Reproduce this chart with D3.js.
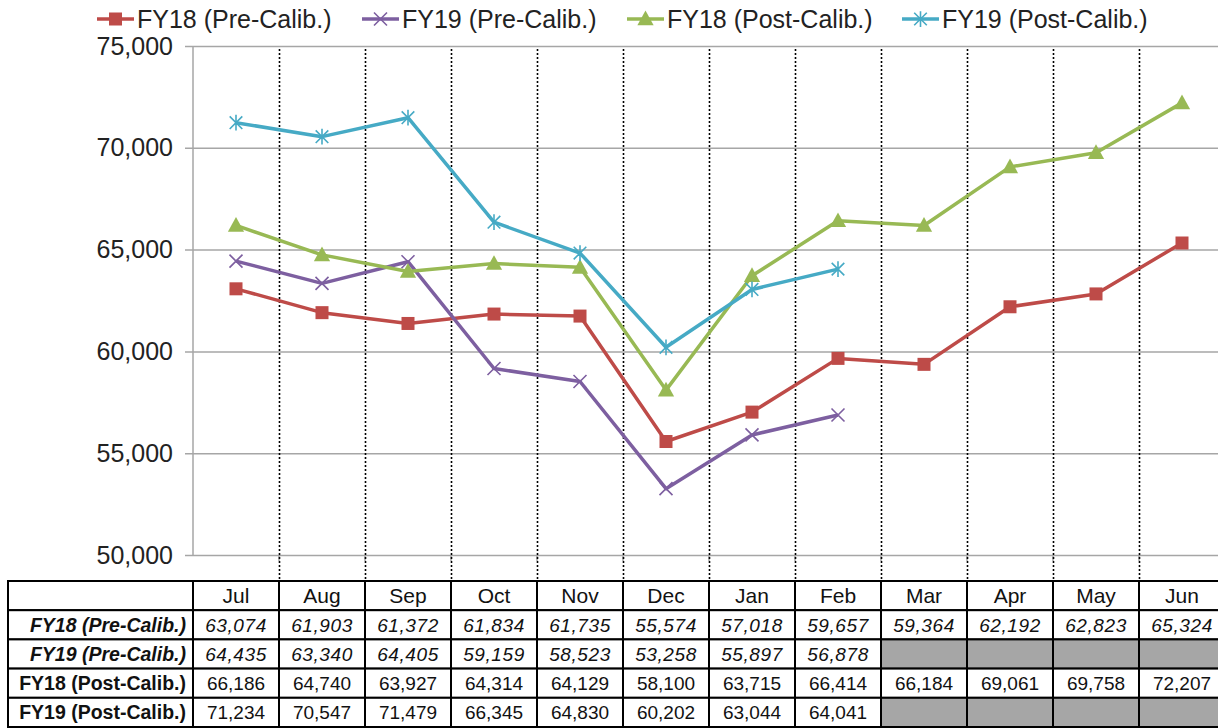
<!DOCTYPE html>
<html><head><meta charset="utf-8">
<script src="https://cdn.jsdelivr.net/npm/d3@7"></script>
<style>body{margin:0;background:#fff}svg{display:block}text{font-family:"Liberation Sans",Arial,sans-serif}</style>
</head><body><svg id="c" width="1218" height="728"></svg>
<script>
const months = ["Jul","Aug","Sep","Oct","Nov","Dec","Jan","Feb","Mar","Apr","May","Jun"];
const seriesNames = ["FY18 (Pre-Calib.)","FY19 (Pre-Calib.)","FY18 (Post-Calib.)","FY19 (Post-Calib.)"];
const fy18Pre  = [63074,61903,61372,61834,61735,55574,57018,59657,59364,62192,62823,65324];
const fy19Pre  = [64435,63340,64405,59159,58523,53258,55897,56878,null,null,null,null];
const fy18Post = [66186,64740,63927,64314,64129,58100,63715,66414,66184,69061,69758,72207];
const fy19Post = [71234,70547,71479,66345,64830,60202,63044,64041,null,null,null,null];
const yTicks = [50000,55000,60000,65000,70000,75000];

const series = [
  {name:seriesNames[0], values:fy18Pre,  color:"#BE4B48", marker:"square", italic:true},
  {name:seriesNames[1], values:fy19Pre,  color:"#7D5FA0", marker:"x", italic:true},
  {name:seriesNames[2], values:fy18Post, color:"#98B954", marker:"triangle", italic:false},
  {name:seriesNames[3], values:fy19Post, color:"#46AAC5", marker:"star", italic:false}
];
const markerSize = {square:13, x:13, triangle:14, star:14};

const svg = d3.select("#c");
const plotL = 193, plotR = 1225, plotT = 46, plotB = 555;
const tableT = 581, rowH = 29.2, tableL = 8;

const x = d3.scaleBand().domain(months).range([plotL, plotR]).padding(0);
const bw = x.bandwidth();
const cx = m => x(m) + bw/2;
const y = d3.scaleLinear().domain([50000,75000]).range([plotB, plotT]);

// horizontal gridlines
const yAxis = d3.axisLeft(y).tickValues(yTicks).tickFormat(d3.format(",")).tickSize(-(1218-plotL)).tickPadding(14);
const gy = svg.append("g").attr("transform",`translate(${plotL},0)`).call(yAxis);
gy.select(".domain").remove();
gy.selectAll(".tick line").attr("stroke","#A6A6A6").attr("stroke-width",1.5).attr("x1",-8);
gy.selectAll(".tick text").attr("font-size",25).attr("fill","#222").attr("font-family","Liberation Sans, Arial, sans-serif").attr("dx",-6);
svg.append("line").attr("x1",plotL).attr("x2",plotL).attr("y1",plotT).attr("y2",plotB).attr("stroke","#A6A6A6").attr("stroke-width",1.5);

// small x tick marks
svg.append("g").selectAll("line").data(months.slice(1)).join("line")
  .attr("x1",d=>x(d)).attr("x2",d=>x(d)).attr("y1",plotB).attr("y2",plotB+6)
  .attr("stroke","#A6A6A6").attr("stroke-width",1.5);

// dotted vertical lines
svg.append("g").selectAll("line").data(months.slice(1)).join("line")
  .attr("x1",d=>x(d)+0.5).attr("x2",d=>x(d)+0.5).attr("y1",plotT+3).attr("y2",tableT)
  .attr("stroke","#000").attr("stroke-width",1.6).attr("stroke-dasharray","2,2");

const line = d3.line().defined(d=>d.v!=null).x(d=>cx(d.m)).y(d=>y(d.v));
function drawMarker(g, type, color, px, py, s){
  if(type==="square"){
    g.append("rect").attr("x",px-s/2).attr("y",py-s/2).attr("width",s).attr("height",s).attr("fill",color);
  } else if(type==="triangle"){
    g.append("path").attr("d",`M${px},${py-s*0.6}L${px+s*0.58},${py+s*0.45}L${px-s*0.58},${py+s*0.45}Z`).attr("fill",color);
  } else if(type==="x"){
    const r=s*0.5;
    g.append("path").attr("d",`M${px-r},${py-r}L${px+r},${py+r}M${px-r},${py+r}L${px+r},${py-r}`).attr("stroke",color).attr("stroke-width",1.6).attr("fill","none");
  } else if(type==="star"){
    const r=s*0.45;
    g.append("path").attr("d",`M${px-r},${py-r}L${px+r},${py+r}M${px-r},${py+r}L${px+r},${py-r}M${px},${py-r*1.25}L${px},${py+r*1.25}`).attr("stroke",color).attr("stroke-width",1.6).attr("fill","none");
  }
}
series.forEach(s=>{
  const pts = months.map((m,i)=>({m, v:s.values[i]}));
  svg.append("path").datum(pts).attr("d",line).attr("fill","none").attr("stroke",s.color).attr("stroke-width",3.5).attr("stroke-linejoin","round");
  const g = svg.append("g");
  pts.filter(p=>p.v!=null).forEach(p=>drawMarker(g, s.marker, s.color, cx(p.m), y(p.v), markerSize[s.marker]));
});

// legend
const legX = [97, 362, 627, 902];
series.forEach((s,i)=>{
  const g = svg.append("g");
  const lx = legX[i], ly = 19;
  g.append("line").attr("x1",lx).attr("x2",lx+37).attr("y1",ly).attr("y2",ly).attr("stroke",s.color).attr("stroke-width",3.5);
  drawMarker(g, s.marker, s.color, lx+18.5, ly, markerSize[s.marker]);
  g.append("text").attr("x",lx+40).attr("y",ly+9).attr("font-size",25).attr("fill","#222").text(s.name);
});

// table
const tg = svg.append("g");
tg.append("rect").attr("x",tableL).attr("y",tableT).attr("width",plotL-tableL).attr("height",rowH).attr("fill","#fff").attr("stroke","#000").attr("stroke-width",2);
months.forEach(m=>{
  tg.append("rect").attr("x",x(m)).attr("y",tableT).attr("width",bw).attr("height",rowH).attr("fill","#fff").attr("stroke","#000").attr("stroke-width",2);
  tg.append("text").attr("x",cx(m)).attr("y",tableT+rowH/2+7.5).attr("text-anchor","middle").attr("font-size",21).attr("fill","#111").text(m);
});
const fmt = d3.format(",");
series.forEach((s,r)=>{
  const ty = tableT + rowH*(r+1);
  tg.append("rect").attr("x",tableL).attr("y",ty).attr("width",plotL-tableL).attr("height",rowH).attr("fill","#fff").attr("stroke","#000").attr("stroke-width",2);
  tg.append("text").attr("x",plotL-7).attr("y",ty+rowH/2+7).attr("text-anchor","end").attr("font-size",19.5).attr("font-weight","bold")
    .attr("font-style",s.italic?"italic":"normal").attr("fill","#111").text(s.name);
  months.forEach((m,i)=>{
    const v = s.values[i];
    tg.append("rect").attr("x",x(m)).attr("y",ty).attr("width",bw).attr("height",rowH).attr("fill",v==null?"#A6A6A6":"#fff").attr("stroke","#000").attr("stroke-width",2);
    if(v!=null) tg.append("text").attr("x",cx(m)).attr("y",ty+rowH/2+7).attr("text-anchor","middle").attr("font-size",19)
      .attr("font-style",s.italic?"italic":"normal").attr("letter-spacing",s.italic?"0.6":"0").attr("fill","#111").text(fmt(v));
  });
});
</script></body></html>
